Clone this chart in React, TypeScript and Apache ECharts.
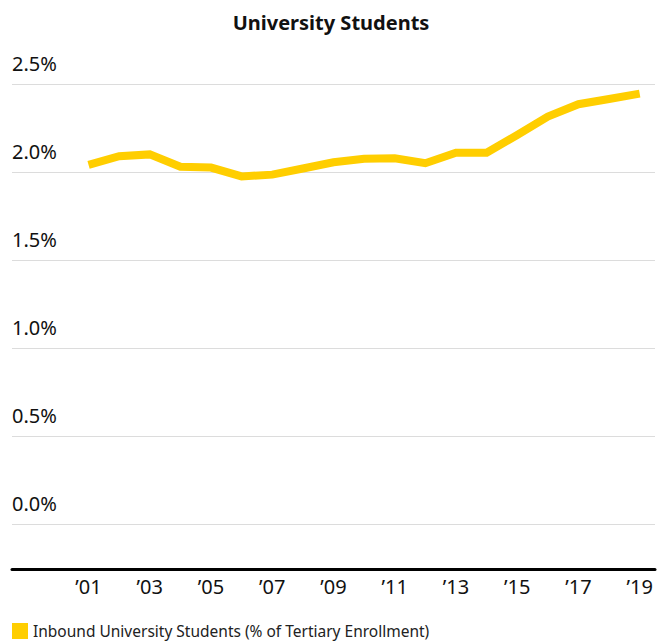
import React, { useEffect, useRef } from "react";
import * as echarts from "echarts";

const TITLE = "University Students";
const SERIES_NAME = "Inbound University Students (% of Tertiary Enrollment)";
const YEARS = [
  "1999", "2000", "2001", "2002", "2003", "2004", "2005", "2006", "2007", "2008",
  "2009", "2010", "2011", "2012", "2013", "2014", "2015", "2016", "2017", "2018", "2019",
];
const VALUES: (number | null)[] = [
  null, null, 2.04, 2.09, 2.1, 2.03, 2.025, 1.975, 1.985, 2.02,
  2.055, 2.075, 2.078, 2.05, 2.11, 2.11, 2.21, 2.315, 2.385, 2.415, 2.445,
];
const Y_MIN = 0;
const Y_MAX = 2.5;
const Y_STEP = 0.5;
const LABEL_YEARS = ["2001", "2003", "2005", "2007", "2009", "2011", "2013", "2015", "2017", "2019"];

const YELLOW = "#FFCE00";
const FONT = "'Noto Sans', sans-serif";

export default function App() {
  const ref = useRef<HTMLDivElement>(null);
  useEffect(() => {
    document.body.style.margin = "0";
    if (!ref.current) return;
    const chart = echarts.init(ref.current, undefined, { renderer: "svg" });
    chart.setOption({
      animation: false,
      backgroundColor: "#ffffff",
      textStyle: { fontFamily: FONT },
      title: {
        text: TITLE,
        left: "center",
        top: 7,
        textStyle: { fontFamily: FONT, fontSize: 20, fontWeight: "bold", color: "#111" },
      },
      legend: {
        data: [{ name: SERIES_NAME, icon: "rect" }],
        left: 7,
        top: 618,
        itemWidth: 16,
        itemHeight: 16,
        itemGap: 5,
        textStyle: { fontFamily: FONT, fontSize: 15.5, color: "#222" },
      },
      grid: { left: 12, right: 7, top: 84, bottom: 117, containLabel: false },
      xAxis: {
        type: "category",
        data: YEARS,
        boundaryGap: true,
        offset: 45,
        axisLine: { onZero: false, lineStyle: { color: "#000", width: 3 } },
        axisTick: { show: false },
        axisLabel: {
          interval: (_i: number, v: string) => LABEL_YEARS.includes(v),
          formatter: (v: string) => "\u2019" + v.slice(2),
          fontFamily: FONT,
          fontSize: 20,
          color: "#111",
          margin: 7,
        },
        splitLine: { show: false },
      },
      yAxis: {
        type: "value",
        min: Y_MIN,
        max: Y_MAX,
        interval: Y_STEP,
        axisLine: { show: false },
        axisTick: { show: false },
        axisLabel: {
          inside: true,
          margin: 0,
          align: "left",
          verticalAlign: "bottom",
          padding: [0, 0, 11, 0],
          formatter: (v: number) => v.toFixed(1) + "%",
          fontFamily: FONT,
          fontSize: 20,
          color: "#111",
        },
        splitLine: { lineStyle: { color: "#dcdcdc", width: 1 } },
      },
      series: [
        {
          name: SERIES_NAME,
          type: "line",
          data: VALUES,
          color: YELLOW,
          showSymbol: false,
          symbol: "none",
          lineStyle: { color: YELLOW, width: 8, cap: "butt", join: "miter" },
          itemStyle: { color: YELLOW },
        },
      ],
    });
    return () => chart.dispose();
  }, []);
  return <div ref={ref} style={{ width: 662, height: 641 }} />;
}
